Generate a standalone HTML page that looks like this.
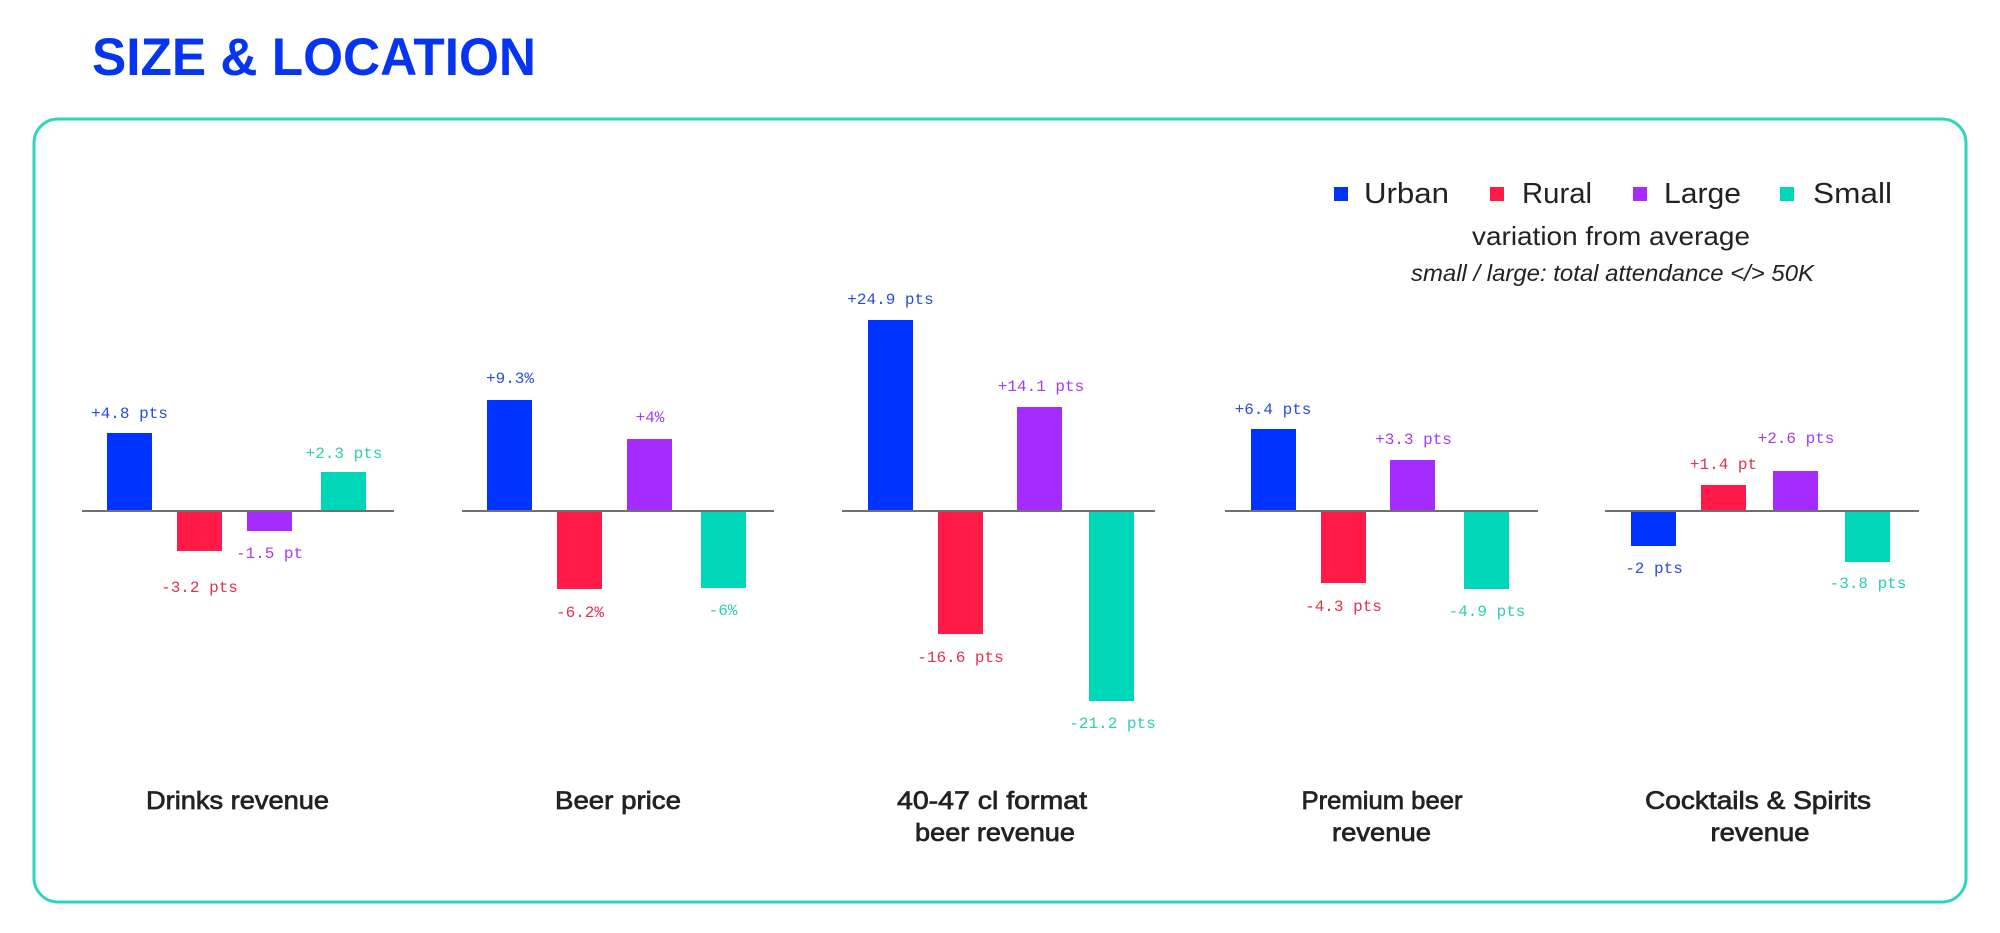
<!DOCTYPE html>
<html>
<head>
<meta charset="utf-8">
<style>
  html, body { margin: 0; padding: 0; background: #ffffff; }
  body { width: 2000px; height: 933px; overflow: hidden; }
  svg { display: block; }
  .val { font-family: "Liberation Mono", monospace; font-size: 16px; text-anchor: middle; }
  .cat { font-family: "Liberation Sans", sans-serif; font-size: 25px; font-weight: normal; fill: #222222; stroke: #222222; stroke-width: 0.7px; text-anchor: middle; }
  .leg { font-family: "Liberation Sans", sans-serif; font-size: 29px; fill: #222222; }
  .blue { fill: #0033ff; }
  .red { fill: #ff1a47; }
  .purple { fill: #a62bff; }
  .teal { fill: #00d6b8; }
  .tblue { fill: #2a4be0; }
  .tred { fill: #e3304f; }
  .tpurple { fill: #a53cf2; }
  .tteal { fill: #2ccfb3; }
</style>
</head>
<body>
<svg width="2000" height="933" viewBox="0 0 2000 933" xmlns="http://www.w3.org/2000/svg">
  <rect x="0" y="0" width="2000" height="933" fill="#ffffff"/>

  <!-- Title -->
  <text x="92" y="75" font-family="Liberation Sans, sans-serif" font-size="53" font-weight="bold" fill="#0535f0" textLength="444" lengthAdjust="spacingAndGlyphs">SIZE &amp; LOCATION</text>

  <!-- Frame -->
  <rect x="34" y="119" width="1932" height="783" rx="24" ry="24" fill="none" stroke="#2ed5bb" stroke-width="3"/>

  <!-- Legend -->
  <rect x="1334" y="187" width="14" height="14" class="blue"/>
  <text x="1364" y="203" class="leg" textLength="85" lengthAdjust="spacingAndGlyphs">Urban</text>
  <rect x="1490" y="187" width="14" height="14" class="red"/>
  <text x="1522" y="203" class="leg" textLength="70" lengthAdjust="spacingAndGlyphs">Rural</text>
  <rect x="1633" y="187" width="14" height="14" class="purple"/>
  <text x="1664" y="203" class="leg" textLength="77" lengthAdjust="spacingAndGlyphs">Large</text>
  <rect x="1780" y="187" width="14" height="14" class="teal"/>
  <text x="1813" y="203" class="leg" textLength="79" lengthAdjust="spacingAndGlyphs">Small</text>

  <text x="1472" y="245" font-family="Liberation Sans, sans-serif" font-size="26" fill="#222222" textLength="278" lengthAdjust="spacingAndGlyphs">variation from average</text>
  <text x="1411" y="281" font-family="Liberation Sans, sans-serif" font-size="23" font-style="italic" fill="#222222" textLength="403" lengthAdjust="spacingAndGlyphs">small / large: total attendance &lt;/&gt; 50K</text>

  <!-- Group 1: Drinks revenue -->
  <rect x="107" y="433" width="45" height="78" class="blue"/>
  <rect x="177" y="511" width="45" height="40" class="red"/>
  <rect x="247" y="511" width="45" height="20" class="purple"/>
  <rect x="321" y="472" width="45" height="39" class="teal"/>
  <line x1="82" y1="511" x2="394" y2="511" stroke="#707070" stroke-width="2"/>
  <text x="129.5" y="418" class="val tblue">+4.8 pts</text>
  <text x="199.5" y="592" class="val tred">-3.2 pts</text>
  <text x="269.5" y="558" class="val tpurple">-1.5 pt</text>
  <text x="344" y="458" class="val tteal">+2.3 pts</text>
  <text x="237.5" y="809" class="cat" textLength="183" lengthAdjust="spacingAndGlyphs">Drinks revenue</text>

  <!-- Group 2: Beer price -->
  <rect x="487" y="400" width="45" height="111" class="blue"/>
  <rect x="557" y="511" width="45" height="78" class="red"/>
  <rect x="627" y="439" width="45" height="72" class="purple"/>
  <rect x="701" y="511" width="45" height="77" class="teal"/>
  <line x1="462" y1="511" x2="774" y2="511" stroke="#707070" stroke-width="2"/>
  <text x="510" y="383" class="val tblue">+9.3%</text>
  <text x="580" y="617" class="val tred">-6.2%</text>
  <text x="650" y="422" class="val tpurple">+4%</text>
  <text x="723" y="615" class="val tteal">-6%</text>
  <text x="618" y="809" class="cat" textLength="126" lengthAdjust="spacingAndGlyphs">Beer price</text>

  <!-- Group 3: 40-47 cl format beer revenue -->
  <rect x="868" y="320" width="45" height="191" class="blue"/>
  <rect x="938" y="511" width="45" height="123" class="red"/>
  <rect x="1017" y="407" width="45" height="104" class="purple"/>
  <rect x="1089" y="511" width="45" height="190" class="teal"/>
  <line x1="842" y1="511" x2="1155" y2="511" stroke="#707070" stroke-width="2"/>
  <text x="890.5" y="304" class="val tblue">+24.9 pts</text>
  <text x="960.5" y="662" class="val tred">-16.6 pts</text>
  <text x="1041" y="391" class="val tpurple">+14.1 pts</text>
  <text x="1112.5" y="728" class="val tteal">-21.2 pts</text>
  <text x="992" y="809" class="cat" textLength="190" lengthAdjust="spacingAndGlyphs">40-47 cl format</text>
  <text x="995" y="841" class="cat" textLength="160" lengthAdjust="spacingAndGlyphs">beer revenue</text>

  <!-- Group 4: Premium beer revenue -->
  <rect x="1251" y="429" width="45" height="82" class="blue"/>
  <rect x="1321" y="511" width="45" height="72" class="red"/>
  <rect x="1390" y="460" width="45" height="51" class="purple"/>
  <rect x="1464" y="511" width="45" height="78" class="teal"/>
  <line x1="1225" y1="511" x2="1538" y2="511" stroke="#707070" stroke-width="2"/>
  <text x="1273" y="414" class="val tblue">+6.4 pts</text>
  <text x="1343.5" y="611" class="val tred">-4.3 pts</text>
  <text x="1413.5" y="444" class="val tpurple">+3.3 pts</text>
  <text x="1487" y="616" class="val tteal">-4.9 pts</text>
  <text x="1382" y="809" class="cat" textLength="161" lengthAdjust="spacingAndGlyphs">Premium beer</text>
  <text x="1381.5" y="841" class="cat" textLength="99" lengthAdjust="spacingAndGlyphs">revenue</text>

  <!-- Group 5: Cocktails & Spirits revenue -->
  <rect x="1631" y="511" width="45" height="35" class="blue"/>
  <rect x="1701" y="485" width="45" height="26" class="red"/>
  <rect x="1773" y="471" width="45" height="40" class="purple"/>
  <rect x="1845" y="511" width="45" height="51" class="teal"/>
  <line x1="1605" y1="511" x2="1919" y2="511" stroke="#707070" stroke-width="2"/>
  <text x="1654" y="573" class="val tblue">-2 pts</text>
  <text x="1723.5" y="469" class="val tred">+1.4 pt</text>
  <text x="1796" y="443" class="val tpurple">+2.6 pts</text>
  <text x="1868" y="588" class="val tteal">-3.8 pts</text>
  <text x="1758" y="809" class="cat" textLength="226" lengthAdjust="spacingAndGlyphs">Cocktails &amp; Spirits</text>
  <text x="1760" y="841" class="cat" textLength="99" lengthAdjust="spacingAndGlyphs">revenue</text>
</svg>
</body>
</html>
